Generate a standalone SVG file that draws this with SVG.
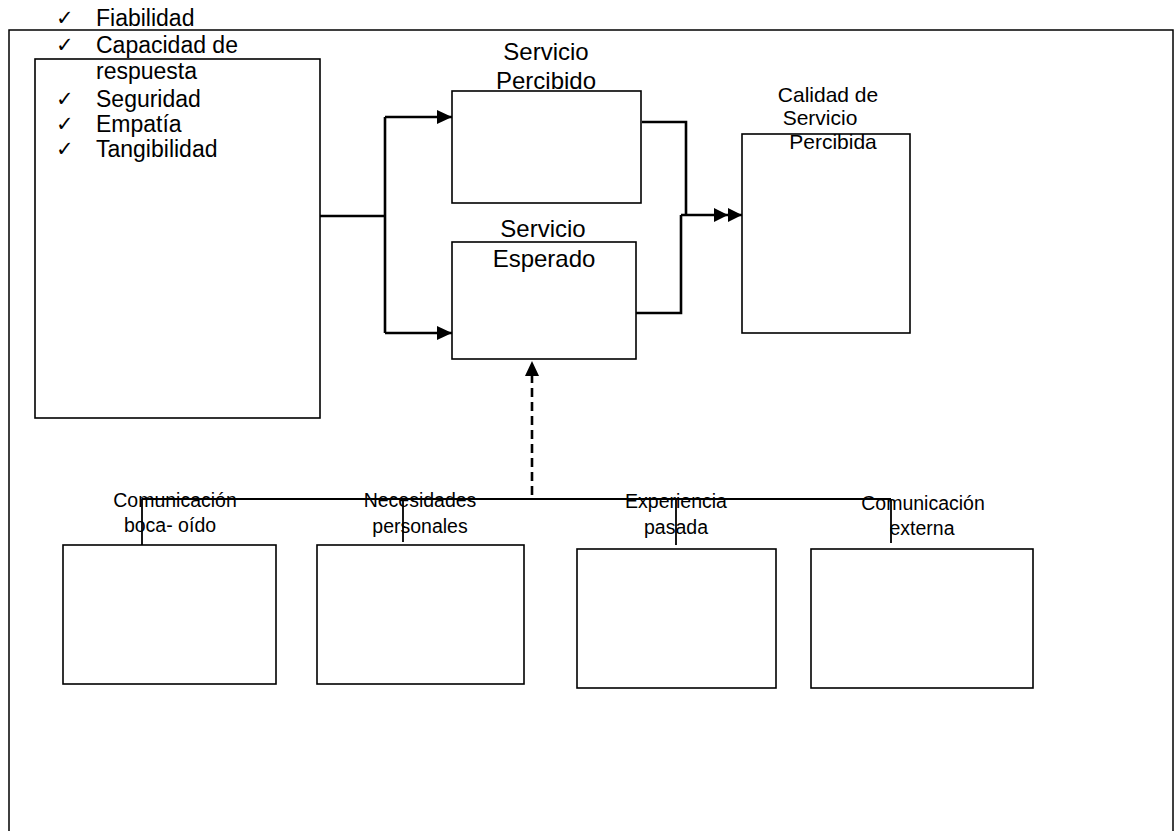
<svg xmlns="http://www.w3.org/2000/svg" width="1174" height="831" viewBox="0 0 1174 831">
<style>
.box{fill:none;stroke:#000;stroke-width:1.6}
.frame{fill:#fff;stroke:#000;stroke-width:1.5}
.con{fill:none;stroke:#000;stroke-width:2.6}
.thin{fill:none;stroke:#000;stroke-width:1.8}
.dash{fill:none;stroke:#000;stroke-width:2.6;stroke-dasharray:9 5}
text{font-family:"Liberation Sans",Arial,sans-serif;fill:#000}
.list{font-size:23px}
.chk{font-family:"DejaVu Sans",sans-serif;font-size:21px}
.svc{font-size:24px;text-anchor:middle}
.cal{font-size:21px;text-anchor:middle}
.bot{font-size:19.5px;text-anchor:middle}
</style>
<defs>
<marker id="arr" markerUnits="userSpaceOnUse" markerWidth="16" markerHeight="16" viewBox="0 0 16 16" refX="15" refY="8" orient="auto">
<path d="M0,1 L15,8 L0,15 Z" fill="#000"/>
</marker>
<marker id="dbl" markerUnits="userSpaceOnUse" markerWidth="30" markerHeight="16" viewBox="0 0 30 16" refX="28" refY="8" orient="auto">
<path d="M0,1 L14,8 L0,15 Z M14,1 L28,8 L14,15 Z" fill="#000"/>
</marker>
</defs>
<rect width="1174" height="831" fill="#fff"/>
<rect class="frame" x="9" y="30" width="1164" height="830"/>

<g id="connectors">
<path class="con" d="M320,216 H385 M385,117 V333"/>
<path class="con" d="M385,117 H452" marker-end="url(#arr)"/>
<path class="con" d="M385,333 H452" marker-end="url(#arr)"/>
<path class="con" d="M642,122 H686 V215 M636,313 H681 V215"/>
<path class="con" d="M681,215 H742" marker-end="url(#dbl)"/>
<path class="thin" d="M142,499 H891 M142,499 V545 M403,499 V542 M676,499 V545 M891,499 V543"/>
<path class="dash" d="M532,495 V374"/>
<path d="M532,361 L525,376 L539,376 Z" fill="#000"/>
</g>

<g id="dimensiones">
<rect class="box" x="35" y="59" width="285" height="359"/>
<text class="chk" x="56" y="25">✓</text>
<text class="list" x="96" y="26">Fiabilidad</text>
<text class="chk" x="56" y="52">✓</text>
<text class="list" x="96" y="53">Capacidad de</text>
<text class="list" x="96" y="79">respuesta</text>
<text class="chk" x="56" y="106">✓</text>
<text class="list" x="96" y="107">Seguridad</text>
<text class="chk" x="56" y="131">✓</text>
<text class="list" x="96" y="132">Empatía</text>
<text class="chk" x="56" y="156">✓</text>
<text class="list" x="96" y="157">Tangibilidad</text>
</g>

<g id="servicio-percibido">
<rect class="box" x="452" y="91" width="189" height="112"/>
<text class="svc" x="546" y="60">Servicio</text>
<text class="svc" x="546" y="89">Percibido</text>
</g>

<g id="servicio-esperado">
<rect class="box" x="452" y="242" width="184" height="117"/>
<text class="svc" x="543" y="237">Servicio</text>
<text class="svc" x="544" y="267">Esperado</text>
</g>

<g id="calidad">
<rect class="box" x="742" y="134" width="168" height="199"/>
<text class="cal" x="828" y="102">Calidad de</text>
<text class="cal" x="820" y="125">Servicio</text>
<text class="cal" x="833" y="149">Percibida</text>
</g>

<g id="boca-oido">
<rect class="box" x="63" y="545" width="213" height="139"/>
<text class="bot" x="175" y="507">Comunicación</text>
<text class="bot" x="170" y="532">boca- oído</text>
</g>

<g id="necesidades">
<rect class="box" x="317" y="545" width="207" height="139"/>
<text class="bot" x="420" y="507">Necesidades</text>
<text class="bot" x="420" y="533">personales</text>
</g>

<g id="experiencia">
<rect class="box" x="577" y="549" width="199" height="139"/>
<text class="bot" x="676" y="508">Experiencia</text>
<text class="bot" x="676" y="534">pasada</text>
</g>

<g id="externa">
<rect class="box" x="811" y="549" width="222" height="139"/>
<text class="bot" x="923" y="510">Comunicación</text>
<text class="bot" x="922" y="535">externa</text>
</g>
</svg>
